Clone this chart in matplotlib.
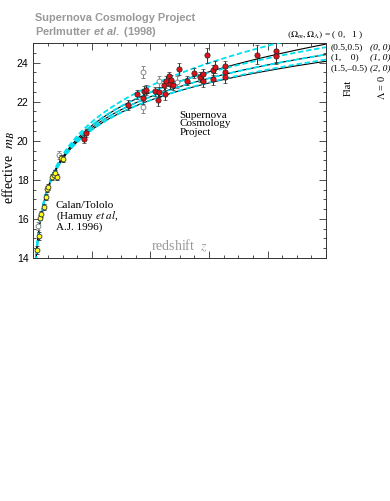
import numpy as np
import matplotlib
matplotlib.use('Agg')
import matplotlib.pyplot as plt
from matplotlib.ticker import MultipleLocator, NullFormatter

# Calan/Tololo supernovae (yellow)
z_ct = [0.014, 0.019, 0.024, 0.027, 0.037, 0.042, 0.047, 0.051, 0.063, 0.070, 0.074, 0.080, 0.094, 0.100]
m_ct = [14.41, 15.14, 16.07, 16.23, 16.62, 17.13, 17.55, 17.64, 18.15, 18.27, 18.35, 18.15, 19.14, 19.05]
e_ct = [0.2, 0.2, 0.15, 0.15, 0.15, 0.15, 0.15, 0.15, 0.15, 0.15, 0.15, 0.15, 0.15, 0.15]

# Supernova Cosmology Project (red)
z_scp = [0.172, 0.181, 0.322, 0.353, 0.374, 0.379, 0.385, 0.416, 0.427, 0.430, 0.448, 0.450,
         0.453, 0.465, 0.467, 0.472, 0.478, 0.499, 0.526, 0.550, 0.570, 0.579, 0.581, 0.592,
         0.613, 0.619, 0.615, 0.655, 0.655, 0.655, 0.763, 0.830, 0.830]
m_scp = [20.10, 20.39, 21.84, 22.37, 22.20, 22.54, 22.60, 22.52, 22.10, 22.49, 22.83, 22.40,
         23.05, 23.29, 22.91, 23.12, 22.83, 23.68, 23.08, 23.46, 23.25, 23.42, 23.05, 24.36,
         23.63, 23.76, 23.17, 23.80, 23.50, 23.25, 24.41, 24.61, 24.31]
e_scp = [0.2, 0.2, 0.25, 0.25, 0.3, 0.25, 0.25, 0.25, 0.3, 0.25, 0.25, 0.3,
         0.25, 0.25, 0.25, 0.25, 0.25, 0.3, 0.25, 0.25, 0.25, 0.25, 0.3, 0.4,
         0.25, 0.3, 0.3, 0.3, 0.3, 0.3, 0.5, 0.6, 0.4]

# points excluded from the fit (open circles)
z_open = [0.016, 0.089, 0.374, 0.374, 0.430, 0.490]
m_open = [15.65, 19.26, 23.50, 21.72, 23.03, 23.00]
e_open = [0.2, 0.2, 0.3, 0.3, 0.3, 0.3]

# model cosmologies (Omega_m, Omega_Lambda)
lambda0_models = [(0, 0), (1, 0), (2, 0)]
flat_models = [(0, 1), (0.5, 0.5), (1, 0), (1.5, -0.5)]
script_M = -3.32
c_kms = 299792.458

plt.rcParams['mathtext.rm'] = 'Liberation Sans:bold'
plt.rcParams['mathtext.it'] = 'Liberation Sans:italic:bold'


def mag_curve(om, ol, z):
    ok = 1 - om - ol
    E = np.sqrt(om * (1 + z)**3 + ok * (1 + z)**2 + ol)
    chi = np.concatenate([[0], np.cumsum(0.5 * (1 / E[1:] + 1 / E[:-1]) * np.diff(z))])
    if ok > 1e-8:
        s = np.sinh(np.sqrt(ok) * chi) / np.sqrt(ok)
    elif ok < -1e-8:
        s = np.sin(np.sqrt(-ok) * chi) / np.sqrt(-ok)
    else:
        s = chi
    dl = (1 + z) * s
    return script_M + 5 * np.log10(c_kms * dl)


fig = plt.figure(figsize=(3.9, 5.01), dpi=100)
ax = fig.add_axes([0.0855, 0.485, 0.7505, 0.4292])

z = np.linspace(1e-4, 1.0, 2000)
for om, ol in lambda0_models:
    ax.plot(z, mag_curve(om, ol, z), color='black', lw=0.8, zorder=2)
for om, ol in flat_models:
    ax.plot(z, mag_curve(om, ol, z), color='#00e0f0', lw=1.3, ls=(0, (3, 1.5)), zorder=3)

ax.errorbar(z_open, m_open, yerr=e_open, fmt='o', ms=3.5, mfc='white', mec='#888888',
            ecolor='#888888', elinewidth=0.7, capsize=1.5, mew=0.7, zorder=4)
ax.errorbar(z_ct, m_ct, yerr=e_ct, fmt='o', ms=3.5, mfc='#ffff20', mec='#333333',
            ecolor='#333333', elinewidth=0.7, capsize=1.5, mew=0.6, zorder=5)
ax.errorbar(z_scp, m_scp, yerr=e_scp, fmt='o', ms=3.8, mfc='#e0101a', mec='#222222',
            ecolor='#333333', elinewidth=0.7, capsize=1.5, mew=0.5, zorder=5)

ax.set_xlim(0, 1.0)
ax.set_ylim(14, 25)
ax.xaxis.set_major_locator(MultipleLocator(0.2))
ax.xaxis.set_minor_locator(MultipleLocator(0.05))
ax.xaxis.set_major_formatter(NullFormatter())
ax.yaxis.set_major_locator(MultipleLocator(2))
ax.yaxis.set_minor_locator(MultipleLocator(0.5))
ax.tick_params(which='both', direction='in', top=True, right=True, width=0.6, color='#333333')
ax.tick_params(which='major', length=5, labelsize=7.5)
ax.tick_params(which='minor', length=2.5)
for lab in ax.get_yticklabels():
    lab.set_family('Liberation Sans')
for sp in ax.spines.values():
    sp.set_linewidth(0.7)
    sp.set_color('#333333')

serif = 'Liberation Serif'
ax.set_ylabel(r'effective  $m_B$', family=serif, fontsize=10, math_fontfamily='stix')
ax.yaxis.set_label_coords(-0.056, 0.42)
ax.text(0.5, 0.02, r'redshift  $z$', transform=ax.transAxes, family=serif, fontsize=10,
        color='#999999', ha='center', va='bottom', math_fontfamily='stix')
ax.text(0.50, 0.685, 'Supernova\nCosmology\nProject', transform=ax.transAxes, family=serif,
        fontsize=8, linespacing=0.95, va='top')
ax.text(0.077, 0.265, 'Calan/Tololo\n(Hamuy $\\it{et\\ al}$,\nA.J. 1996)', transform=ax.transAxes,
        family=serif, fontsize=8, linespacing=0.95, va='top', math_fontfamily='stix')

fig.text(0.09, 0.964, 'Supernova Cosmology Project', family='Liberation Sans', weight='bold',
         fontsize=7.9, color='#999999', va='center')
fig.text(0.09, 0.936, 'Perlmutter $\\it{et\\ al.}$ (1998)', family='Liberation Sans', weight='bold',
         fontsize=7.9, color='#999999', va='center', math_fontfamily='custom')

rs = dict(family=serif, fontsize=6.8, va='center', math_fontfamily='stix')
fig.text(0.737, 0.930, r'$(\Omega_m,\Omega_\Lambda)$ = ( 0,   1 )', **rs)
fig.text(0.848, 0.906, '(0.5,0.5)', **rs)
fig.text(0.848, 0.885, '(1,    0)', **rs)
fig.text(0.848, 0.864, '(1.5,\u20130.5)', **rs)
fig.text(0.948, 0.906, '(0, 0)', style='italic', **rs)
fig.text(0.948, 0.885, '(1, 0)', style='italic', **rs)
fig.text(0.948, 0.864, '(2, 0)', style='italic', **rs)
fig.text(0.893, 0.825, 'Flat', family=serif, fontsize=7.5, rotation=90, ha='center', va='center')
fig.text(0.979, 0.825, r'$\Lambda$ = 0', family=serif, fontsize=7.5, rotation=90, ha='center',
         va='center', math_fontfamily='stix')

fig.savefig('out.png', dpi=100)
